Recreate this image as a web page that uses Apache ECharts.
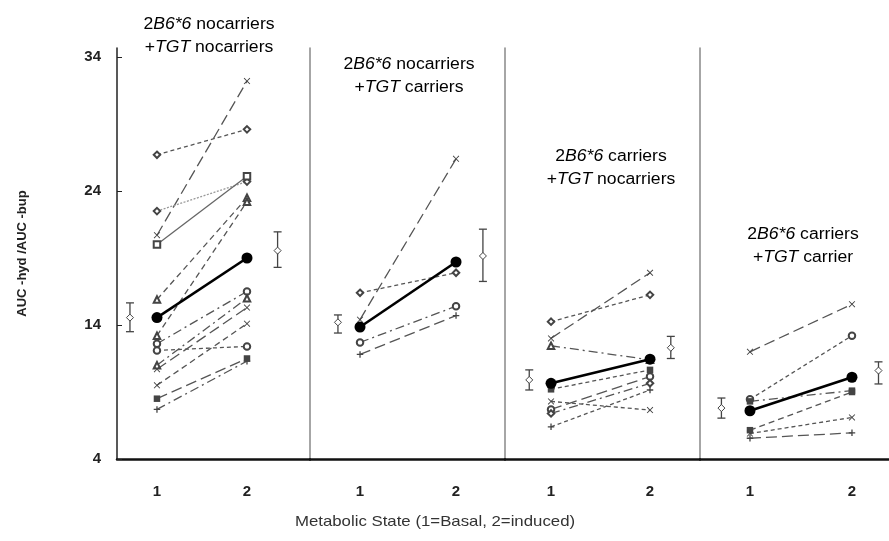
<!DOCTYPE html>
<html>
<head>
<meta charset="utf-8">
<script src="https://cdn.jsdelivr.net/npm/echarts@6/dist/echarts.min.js"></script>
<style>
  html, body { margin: 0; padding: 0; background: #fff; }
  #chart { width: 889px; height: 541px; }
</style>
</head>
<body>
<div id="chart"></div>
<script>
// tick labels
const yTicks = [4, 14, 24, 34];
const xTicks = [1, 2];

// panel titles (rich text: n = normal, i = italic)
const panelTitles = [
  '{n|2}{i|B6*6}{n| nocarriers}\n{n|+}{i|TGT}{n| nocarriers}',
  '{n|2}{i|B6*6}{n| nocarriers}\n{n|+}{i|TGT}{n| carriers}',
  '{n|2}{i|B6*6}{n| carriers}\n{n|+}{i|TGT}{n| nocarriers}',
  '{n|2}{i|B6*6}{n| carriers}\n{n|+}{i|TGT}{n| carrier}'
];

// individual subjects, basal (1) and induced (2)
const p1Basal   = [20.7, 26.7, 22.5, 20.0, 15.9, 13.2, 12.6, 12.1, 11.0, 10.7, 9.5, 8.5, 7.7];
const p1Induced = [32.2, 28.6, 24.7, 25.1, 23.5, 23.2, 16.5, 12.4, 16.0, 15.3, 14.1, 11.5, 11.3];
const p2Basal   = [14.4, 16.4, 12.7, 11.8];
const p2Induced = [26.4, 17.9, 15.4, 14.7];
const p3Basal   = [13.0, 14.25, 12.45, 9.2, 8.3, 7.7, 7.4, 6.4];
const p3Induced = [17.9, 16.25, 11.4, 10.65, 7.65, 10.15, 9.65, 9.15];
const p4Basal   = [12.0, 8.45, 8.3, 6.15, 5.9, 5.55];
const p4Induced = [15.55, 13.2, 9.1, 9.0, 7.1, 5.95];

// group means (bold line)
const meanBasal   = [14.55, 13.85, 9.65, 7.6];
const meanInduced = [19.0, 18.7, 11.45, 10.1];

// mean +/- SE bars: [low, mid, high]
const errBasal   = [[13.5, 14.55, 15.65], [13.4, 14.2, 14.75], [9.15, 9.9, 10.65], [7.05, 7.8, 8.55]];
const errInduced = [[18.3, 19.55, 20.95], [17.25, 19.15, 21.15], [11.5, 12.3, 13.15], [9.6, 10.6, 11.25]];

const basal = [p1Basal, p2Basal, p3Basal, p4Basal];
const induced = [p1Induced, p2Induced, p3Induced, p4Induced];

// ---- styles ----
const X = 'path://M0,1L1,0L5,4L9,0L10,1L6,5L10,9L9,10L5,6L1,10L0,9L4,5Z';
const PLUS = 'path://M4,0H6V4H10V6H6V10H4V6H0V4H4Z';
const DASH = 'path://M0,0H10V2.5H0Z';
const LONG = [11, 5], SHORT = [4, 3], DOT = [2, 1.5], DD = [9, 4, 2, 4], MED = [6, 4];

const styles = [
  [ // panel 1
    [X, LONG, '#555'], ['emptyDiamond', SHORT, '#555'], ['emptyDiamond', DOT, '#999'],
    ['emptyRect', 'solid', '#666'], ['emptyTriangle', MED, '#555'], ['emptyTriangle', MED, '#555'],
    ['emptyCircle', DD, '#555'], ['emptyCircle', SHORT, '#555'], ['emptyTriangle', DD, '#555'],
    [X, LONG, '#555'], [X, MED, '#555'], [DASH, LONG, '#555'], [PLUS, DD, '#555']
  ],
  [ // panel 2
    [X, LONG, '#555'], ['emptyDiamond', SHORT, '#555'], ['emptyCircle', DD, '#555'], [PLUS, LONG, '#555']
  ],
  [ // panel 3
    [X, LONG, '#555'], ['emptyDiamond', SHORT, '#555'], ['emptyTriangle', DD, '#555'], [DASH, SHORT, '#555'],
    [X, SHORT, '#555'], ['emptyCircle', LONG, '#555'], ['emptyDiamond', DD, '#555'], [PLUS, SHORT, '#555']
  ],
  [ // panel 4
    [X, LONG, '#555'], ['emptyCircle', SHORT, '#555'], [DASH, DD, '#555'], [DASH, MED, '#555'],
    [X, SHORT, '#555'], [PLUS, LONG, '#555']
  ]
];

const gridBoxes = [
  { left: 117, width: 193 },
  { left: 310, width: 195 },
  { left: 505, width: 195 },
  { left: 700, width: 189 }
];
const xRanges = [[0.556, 2.70], [0.479, 2.51], [0.535, 2.505], [0.51, 2.363]];
const errX = [[0.70, 2.34], [0.77, 2.28], [0.78, 2.21], [0.72, 2.26]];
const titlePos = [[209, 13], [409, 53], [611, 145], [803, 223]];

const chart = echarts.init(document.getElementById('chart'));

const grid = [], xAxis = [], yAxis = [], series = [];
gridBoxes.forEach((g, k) => {
  grid.push({ left: g.left, width: g.width, top: 48, height: 411 });
  xAxis.push({
    type: 'value', gridIndex: k, min: xRanges[k][0], max: xRanges[k][1],
    splitLine: { show: false },
    axisLine: { show: true, onZero: false, lineStyle: { color: '#111', width: 2.5 } },
    axisTick: { show: false },
    axisLabel: {
      customValues: xTicks, margin: 25,
      color: '#222', fontSize: 15, fontWeight: 'bold', fontFamily: 'Liberation Sans'
    }
  });
  yAxis.push({
    type: 'value', gridIndex: k, min: 4, max: 34.67,
    splitLine: { show: false },
    axisLine: { show: true, onZero: false, lineStyle: { color: k === 0 ? '#222' : '#888', width: 1.5 } },
    axisTick: { show: k === 0, inside: true, length: 5, customValues: yTicks, lineStyle: { color: '#222' } },
    axisLabel: {
      show: k === 0, customValues: yTicks, margin: 16,
      color: '#222', fontSize: 15, fontWeight: 'bold', fontFamily: 'Liberation Sans'
    },
    name: k === 0 ? 'AUC -hyd /AUC -bup' : '',
    nameLocation: 'middle', nameGap: 88, nameRotate: 90,
    nameTextStyle: { color: '#222', fontSize: 13, fontWeight: 'bold', fontFamily: 'Liberation Sans' }
  });

  // individual lines
  basal[k].forEach((b, j) => {
    const st = styles[k][j];
    series.push({
      type: 'line', xAxisIndex: k, yAxisIndex: k,
      data: [[xTicks[0], b], [xTicks[1], induced[k][j]]],
      symbol: st[0], symbolSize: 6.5,
      lineStyle: { color: st[2], width: 1.3, type: st[1] },
      itemStyle: { color: '#444', borderWidth: 1 },
      z: 2
    });
  });

  // mean line
  series.push({
    type: 'line', xAxisIndex: k, yAxisIndex: k,
    data: [[xTicks[0], meanBasal[k]], [xTicks[1], meanInduced[k]]],
    symbol: 'circle', symbolSize: 11,
    lineStyle: { color: '#000', width: 2.6 },
    itemStyle: { color: '#000' },
    z: 5
  });

  // SE bars
  series.push({
    type: 'custom', xAxisIndex: k, yAxisIndex: k, z: 4,
    data: [[errX[k][0]].concat(errBasal[k]), [errX[k][1]].concat(errInduced[k])],
    renderItem: function (params, api) {
      const x = api.value(0);
      const lo = api.coord([x, api.value(1)]);
      const mid = api.coord([x, api.value(2)]);
      const hi = api.coord([x, api.value(3)]);
      const s = { stroke: '#444', lineWidth: 1.3, fill: null };
      const c = 4, d = 3.5;
      return {
        type: 'group',
        children: [
          { type: 'line', shape: { x1: hi[0], y1: hi[1], x2: lo[0], y2: lo[1] }, style: s },
          { type: 'line', shape: { x1: hi[0] - c, y1: hi[1], x2: hi[0] + c, y2: hi[1] }, style: s },
          { type: 'line', shape: { x1: lo[0] - c, y1: lo[1], x2: lo[0] + c, y2: lo[1] }, style: s },
          { type: 'polygon', shape: { points: [[mid[0], mid[1] - d], [mid[0] + d, mid[1]], [mid[0], mid[1] + d], [mid[0] - d, mid[1]]] },
            style: { stroke: '#444', lineWidth: 1, fill: '#fff' } }
        ]
      };
    }
  });
});

const richStyle = {
  n: { fontSize: 16, fontFamily: 'Liberation Sans', color: '#111', lineHeight: 23 },
  i: { fontSize: 16, fontFamily: 'Liberation Sans', color: '#111', lineHeight: 23, fontStyle: 'italic' }
};

const graphic = panelTitles.map((t, k) => ({
  type: 'text', x: titlePos[k][0], y: titlePos[k][1], z: 10, scaleX: 1.1,
  style: { text: t, rich: richStyle, align: 'center', verticalAlign: 'top' }
}));
graphic.push({
  type: 'text', x: 435, y: 522, z: 10, scaleX: 1.12,
  style: {
    text: 'Metabolic State (1=Basal, 2=induced)', align: 'center', verticalAlign: 'middle',
    fontSize: 15, fontFamily: 'Liberation Sans', fill: '#333'
  }
});

chart.setOption({
  animation: false,
  backgroundColor: '#fff',
  grid: grid,
  xAxis: xAxis,
  yAxis: yAxis,
  series: series,
  graphic: graphic
});
</script>
</body>
</html>
